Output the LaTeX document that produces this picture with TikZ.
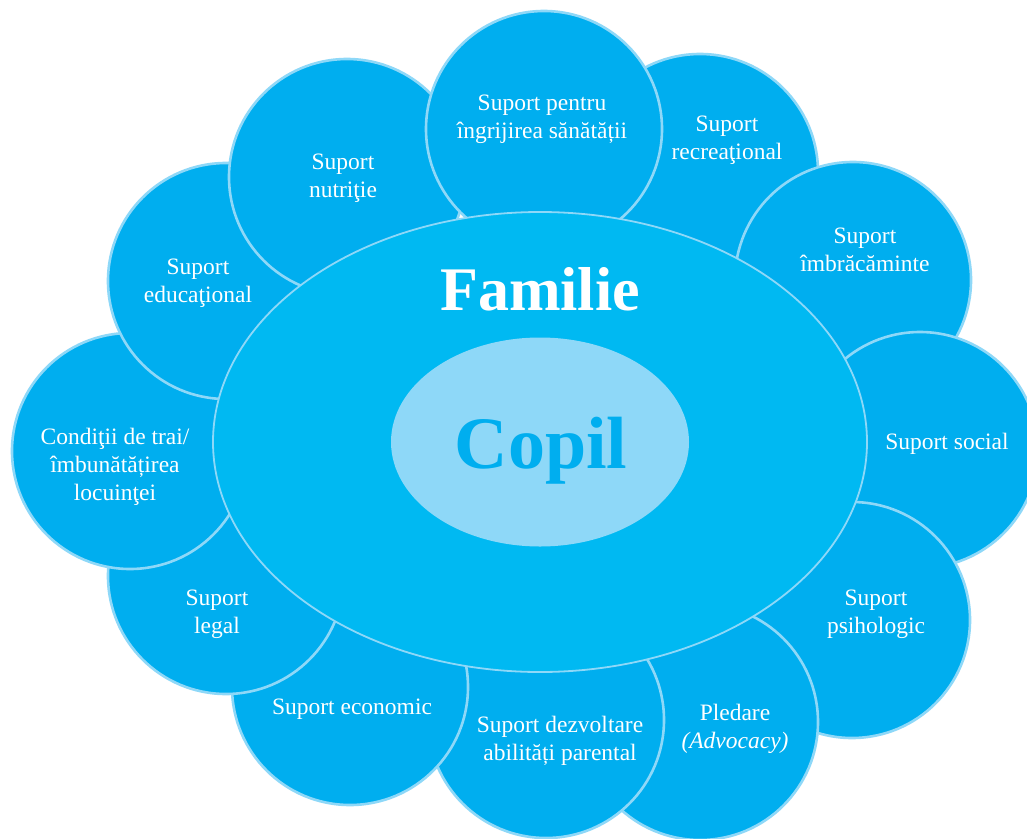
\documentclass[tikz,border=0pt]{standalone}
\usepackage{fontspec}
\setmainfont{Liberation Serif}
\usetikzlibrary{shapes.geometric}

\definecolor{petal}{HTML}{00AEEF}
\definecolor{petaledge}{HTML}{8ED8F8}
\definecolor{famfill}{HTML}{00B9F2}
\definecolor{kidfill}{HTML}{8ED8F8}

\tikzset{
  petalnode/.style={circle, fill=petal, draw=petaledge, line width=2.6pt,
    minimum size=236pt, inner sep=0pt},
  petaltext/.style={align=center, text=white, inner sep=0pt,
    font=\fontsize{23.5}{28}\selectfont},
  famnode/.style={ellipse, fill=famfill, draw=petaledge, line width=1.8pt,
    minimum width=654pt, minimum height=460pt, inner sep=0pt},
  kidnode/.style={ellipse, fill=kidfill, draw=none,
    minimum width=298pt, minimum height=209pt, inner sep=0pt}
}

\begin{document}
\begin{tikzpicture}[x=1pt,y=-1pt]
\clip (0,0) rectangle (1027,838);
\fill[white] (0,0) rectangle (1027,838);

% petals, each one laid over the previous one, clockwise
\node[petalnode] (rec) at (700,172) {};
\node[petalnode] (clo) at (853,280) {};
\node[petalnode] (soc) at (920,450) {};
\node[petalnode] (psy) at (852,620) {};
\node[petalnode] (adv) at (700,722) {};
\node[petalnode] (par) at (546,720) {};
\node[petalnode] (eco) at (350,687) {};
\node[petalnode] (leg) at (226,576) {};
\node[petalnode] (liv) at (130,451) {};
\node[petalnode] (edu) at (226,281) {};
\node[petalnode] (nut) at (347,177) {};
\node[petalnode] (hea) at (544,129) {};

% petal labels
\node[petaltext] (hea-t) at (542,119) {Suport pentru\\îngrijirea sănătății};
\node[petaltext] (rec-t) at (727,140) {Suport\\recreaţional};
\node[petaltext] (clo-t) at (865,250) {Suport\\îmbrăcăminte};
\node[petaltext] (soc-t) at (947,444) {Suport social};
\node[petaltext] (psy-t) at (876,614) {Suport\\psihologic};
\node[petaltext] (adv-t) at (735,729) {Pledare\\\textit{(Advocacy)}};
\node[petaltext] (par-t) at (560,741) {Suport dezvoltare\\abilități parental};
\node[petaltext] (eco-t) at (352,709) {Suport economic};
\node[petaltext] (leg-t) at (217,614) {Suport\\legal};
\node[petaltext] (liv-t) at (115,467) {Condiţii de trai/\\îmbunătățirea\\locuinţei};
\node[petaltext] (edu-t) at (198,283) {Suport\\educaţional};
\node[petaltext] (nut-t) at (343,178) {Suport\\nutriţie};

% family and child at the centre
\node[famnode] (fam) at (540,442) {};
\node[kidnode] (kid) at (540,442) {};
\node[anchor=base, text=white, inner sep=0pt,
  font=\fontsize{62}{70}\selectfont\bfseries] (fam-t) at (540,310) {Familie};
\node[anchor=base, text=petal, inner sep=0pt,
  font=\fontsize{74}{80}\selectfont\bfseries] (kid-t) at (541,468) {Copil};
\end{tikzpicture}
\end{document}
